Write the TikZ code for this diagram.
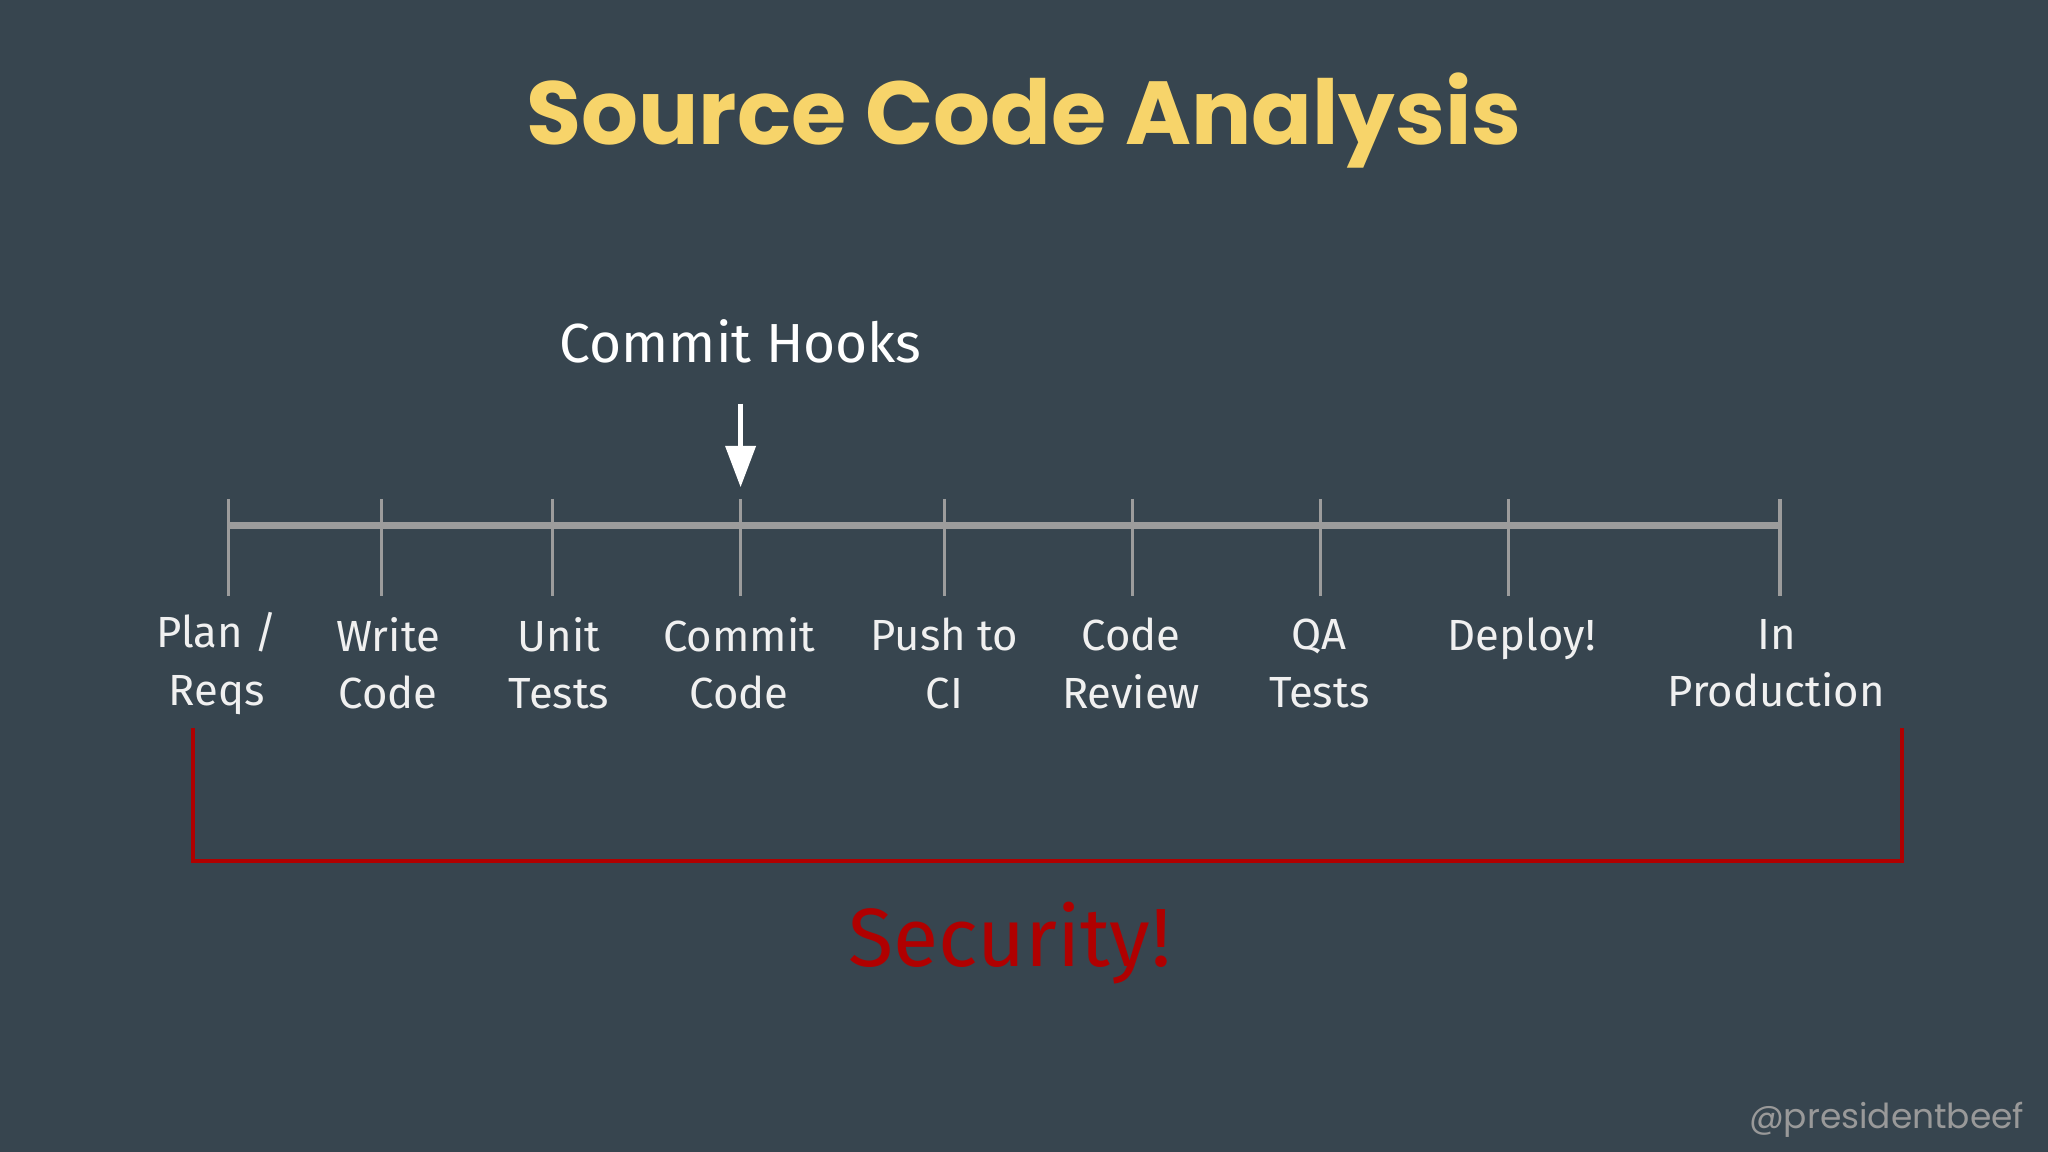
\documentclass[tikz,border=0pt]{standalone}
\usepackage{fontspec}
\setmainfont{Fira Sans}
\newfontfamily\titlefont{Poppins}
\usetikzlibrary{arrows.meta}
\definecolor{bg}{HTML}{37454F}
\definecolor{ttl}{HTML}{F7D46A}
\definecolor{sec}{HTML}{B00000}
\definecolor{tl}{HTML}{9C9C9C}
\tikzset{
 lbl/.style={text=white!88!gray,font=\fontsize{19}{25}\selectfont,align=center,anchor=center},
 tick/.style={draw=tl,line width=1.6pt},
}
\begin{document}
\begin{tikzpicture}[x=0.02cm,y=-0.02cm]
\fill[bg] (0,0) rectangle (1568,882);
\useasboundingbox (0,0) rectangle (1568,882);
\node[text=ttl,font=\titlefont\fontsize{39}{44}\selectfont\bfseries] (title) at (784,92) {Source Code Analysis};
\node[text=white,font=\fontsize{24}{28}\selectfont] (hooks) at (567,261) {Commit Hooks};
\coordinate (as) at (567,309);
\coordinate (ae) at (567,373);
\draw[white,line width=2pt,-{Triangle[length=18pt,width=13pt]}] (as) -- (ae);
\coordinate (l0) at (175,402);
\coordinate (l1) at (1363,402);
\draw[tl,line width=3pt] (l0) -- (l1);
\foreach \x/\n in {175/a,292/b,423/c,567/d,723/e,867/f,1011/g,1155/h,1363/i}{
 \coordinate (t\n a) at (\x,382); \coordinate (t\n b) at (\x,456);
 \draw[tick] (t\n a) -- (t\n b);
}
\node[lbl] (n1) at (166,508) {Plan /\\Reqs};
\node[lbl] (n2) at (297,508) {Write\\Code};
\node[lbl] (n3) at (428,508) {Unit\\Tests};
\node[lbl] (n4) at (566,508) {Commit\\Code};
\node[lbl] (n5) at (723,508) {Push to\\CI};
\node[lbl] (n6) at (866,508) {Code\\Review};
\node[lbl] (n7) at (1010,508) {QA\\Tests};
\node[lbl,anchor=center] (n8) at (1165,489) {Deploy!};
\node[lbl] (n9) at (1360,508) {In\\Production};
\coordinate (b1) at (148,557); \coordinate (b2) at (148,659);
\coordinate (b3) at (1456,659); \coordinate (b4) at (1456,557);
\draw[sec,line width=1.8pt] (b1) -- (b2) -- (b3) -- (b4);
\node[text=sec,font=\fontsize{36}{40}\selectfont] (security) at (773,722) {Security!};
\node[text=gray!80,font=\titlefont\fontsize{15}{18}\selectfont,anchor=east] (handle) at (1556,857) {@presidentbeef};
\end{tikzpicture}
\end{document}
